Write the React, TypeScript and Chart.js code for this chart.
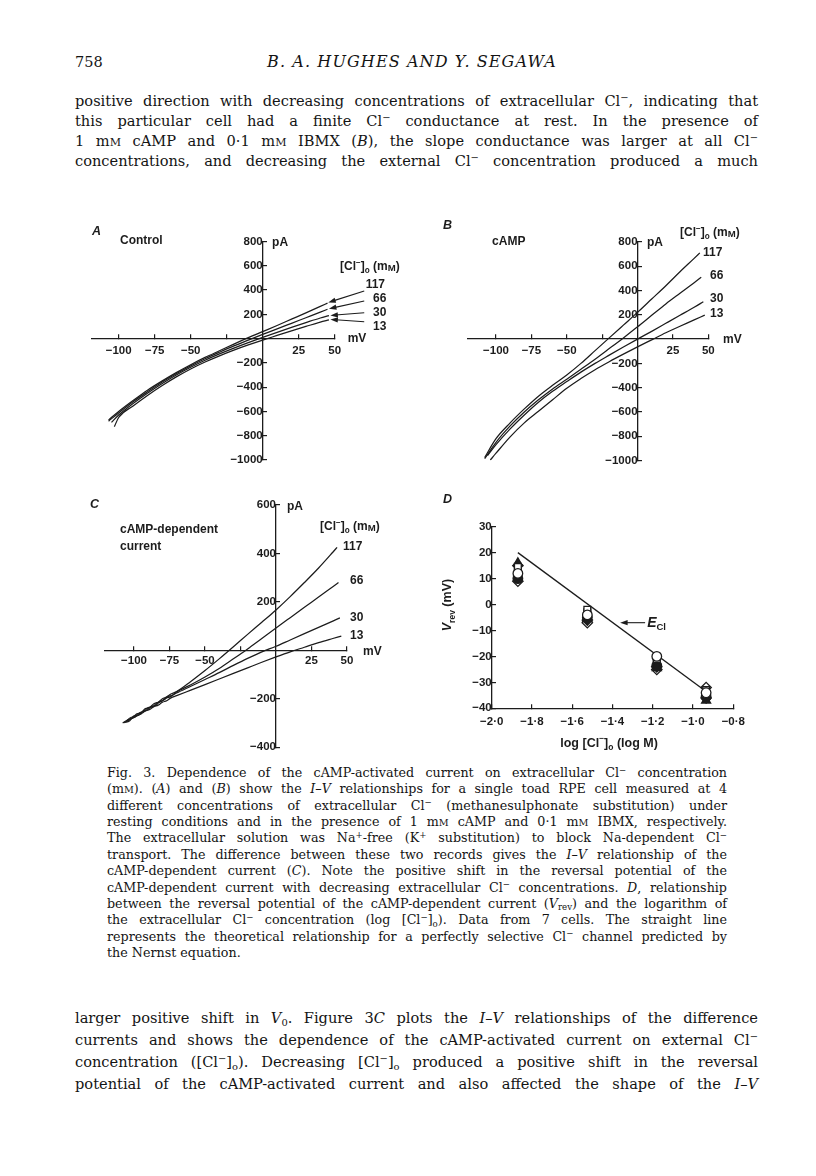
import React, { useEffect, useRef } from 'react';
import { Chart, registerables } from 'chart.js';
Chart.register(...registerables);

const INK = '#1c1c1c';
const SANS = '"Liberation Sans", Arial, Helvetica, sans-serif';
const SERIF = '"DejaVu Serif", "Liberation Serif", serif';

// ---------------- Panel A : Control I–V  (mV, pA)
const aV117 = [-107, -100, -90, -80, -70, -60, -50, -40, -30, -20, -10, 0, 10, 20, 30, 40, 45];
const aI117 = [-670, -600, -510, -425, -350, -280, -215, -155, -100, -45, 8, 58, 108, 160, 212, 265, 292];
const aV66 = [-107, -100, -90, -80, -70, -60, -50, -40, -30, -20, -10, 0, 10, 20, 30, 40, 45];
const aI66 = [-680, -612, -520, -438, -360, -290, -225, -166, -112, -60, -12, 35, 80, 126, 172, 218, 242];
const aV30 = [-105, -100, -90, -80, -70, -60, -50, -40, -30, -20, -10, 0, 10, 20, 30, 40, 46];
const aI30 = [-690, -630, -535, -450, -372, -300, -236, -178, -126, -78, -33, 10, 52, 93, 132, 170, 190];
const aV13 = [-103, -100, -90, -80, -70, -60, -50, -40, -30, -20, -10, 0, 10, 20, 30, 40, 46];
const aI13 = [-725, -650, -555, -468, -388, -315, -250, -193, -142, -95, -52, -12, 26, 64, 100, 136, 154];

// ---------------- Panel B : cAMP I–V
const bV117 = [-108, -100, -90, -80, -70, -60, -50, -40, -30, -20, -10, 0, 10, 20, 30, 40, 44];
const bI117 = [-975, -820, -690, -575, -470, -380, -296, -200, -95, 10, 115, 220, 330, 440, 555, 665, 710];
const bV66 = [-108, -100, -90, -80, -70, -60, -50, -40, -30, -20, -10, 0, 10, 20, 30, 40, 45];
const bI66 = [-985, -850, -715, -600, -500, -410, -330, -248, -165, -78, 10, 101, 196, 290, 378, 465, 509];
const bV30 = [-106, -100, -90, -80, -70, -60, -50, -40, -30, -20, -10, 0, 10, 20, 30, 40, 46.5];
const bI30 = [-960, -870, -740, -625, -520, -430, -350, -272, -200, -132, -65, 0, 64, 130, 196, 262, 308];
const bV13 = [-104, -100, -90, -80, -70, -60, -50, -40, -30, -20, -10, 0, 10, 20, 30, 40, 47.5];
const bI13 = [-996, -940, -805, -690, -595, -500, -405, -325, -252, -186, -124, -64, -6, 52, 106, 158, 198];

// ---------------- Panel C : cAMP-dependent current
const cV117 = [-108, -104, -101, -98, -95, -92, -89, -86, -83, -80, -77, -74, -70, -60, -50, -40, -30, -20, -10, 0, 10, 20, 30, 40, 43];
const cI117 = [-300, -285, -278, -262, -258, -240, -236, -220, -214, -200, -192, -180, -170, -128, -83, -35, 15, 66, 116, 167, 222, 280, 340, 405, 425];
const cV66 = [-107, -103, -100, -97, -94, -91, -88, -85, -82, -79, -76, -73, -70, -60, -50, -40, -30, -20, -10, 0, 10, 20, 30, 40, 44];
const cI66 = [-298, -290, -270, -268, -252, -248, -232, -228, -212, -205, -190, -185, -172, -142, -110, -75, -35, 6, 49, 92, 135, 178, 220, 263, 280];
const cV30 = [-106, -102, -99, -96, -93, -90, -87, -84, -81, -78, -75, -72, -70, -60, -50, -40, -30, -20, -10, 0, 10, 20, 30, 40, 45];
const cI30 = [-296, -276, -274, -258, -252, -236, -233, -217, -212, -198, -193, -182, -176, -148, -120, -92, -62, -33, -6, 17, 43, 69, 95, 121, 134];
const cV13 = [-105, -101, -98, -95, -92, -89, -86, -83, -80, -77, -74, -70, -60, -50, -40, -30, -20, -10, 0, 10, 20, 30, 40, 46];
const cI13 = [-292, -280, -270, -262, -250, -244, -232, -226, -214, -208, -196, -187, -164, -141, -118, -95, -72, -49, -27, -6, 13, 32, 49, 59];

// ---------------- Panel D : Vrev vs log [Cl-]o (7 cells)
const dLogCl = [-1.87, -1.525, -1.18, -0.935];
const dCell1 = [16, -5.5, -24.5, -37];
const dCell2 = [15, -6, -24, -36];
const dCell3 = [14.5, -2, -21, -33];
const dCell4 = [13, -3, -22.5, -35];
const dCell5 = [12, -4, -20, -34];
const dCell6 = [10, -5, -23.5, -35.5];
const dCell7 = [9, -7, -25, -32];
const eclX = [-1.87, -0.935];
const eclY = [20, -33.5];

// ---------------- tick values
const ivXTicks = [-100, -75, -50, -25, 25, 50];
const ivXLabelled = [-100, -75, -50, 25, 50];
const abYTicks = [-1000, -800, -600, -400, -200, 200, 400, 600, 800];
const cYTicks = [-400, -200, 200, 400, 600];
const dXTicks = [-2.0, -1.8, -1.6, -1.4, -1.2, -1.0, -0.8];
const dYTicks = [-40, -30, -20, -10, 0, 10, 20, 30];

const fmtInt = (v: number) => (v < 0 ? '\u2212' + Math.abs(v) : String(v));
const fmtDec = (v: number) => (v < 0 ? '\u2212' : '') + Math.abs(v).toFixed(1).replace('.', '\u00b7');

const RX = /(\^\{[^}]*\}|_\{[^}]*\}|\*[^*]*\*|#[^#]*#)/;
type Seg = { t: string; k: 'n' | 'sup' | 'sub' | 'it' | 'sm' };
function parseSegs(s: string): Seg[] {
  return s.split(RX).filter(Boolean).map((p) => {
    if (p.startsWith('^{')) return { t: p.slice(2, -1), k: 'sup' };
    if (p.startsWith('_{')) return { t: p.slice(2, -1), k: 'sub' };
    if (p.startsWith('*')) return { t: p.slice(1, -1), k: 'it' };
    if (p.startsWith('#')) return { t: p.slice(1, -1), k: 'sm' };
    return { t: p, k: 'n' };
  });
}

function segSize(k: Seg['k'], size: number) {
  return k === 'sup' || k === 'sub' ? size * 0.68 : k === 'sm' ? size * 0.8 : size;
}
function segFont(k: Seg['k'], size: number, italic: boolean) {
  const it = italic || k === 'it';
  return `${it ? 'italic ' : ''}bold ${segSize(k, size)}px ${SANS}`;
}

function drawRich(ctx: CanvasRenderingContext2D, x: number, y: number, text: string, size: number, italic: boolean, align: string, rotate: boolean) {
  const segs = parseSegs(text);
  ctx.save();
  ctx.fillStyle = INK;
  ctx.textBaseline = 'middle';
  ctx.textAlign = 'left';
  let total = 0;
  const widths = segs.map((s) => {
    ctx.font = segFont(s.k, size, italic);
    const w = ctx.measureText(s.t).width;
    total += w;
    return w;
  });
  ctx.translate(x, y);
  if (rotate) ctx.rotate(-Math.PI / 2);
  let cx = align === 'center' ? -total / 2 : 0;
  segs.forEach((s, i) => {
    ctx.font = segFont(s.k, size, italic);
    let dy = 0;
    if (s.k === 'sup') dy = -size * 0.36;
    else if (s.k === 'sub') dy = size * 0.34;
    else if (s.k === 'sm') dy = (size - segSize(s.k, size)) * 0.38;
    ctx.fillText(s.t, cx, dy);
    cx += widths[i];
  });
  ctx.restore();
}

function drawArrow(ctx: CanvasRenderingContext2D, x1: number, y1: number, x2: number, y2: number) {
  const ang = Math.atan2(y2 - y1, x2 - x1);
  const L = 7.5;
  const W = 2.6;
  const c = Math.cos(ang);
  const s = Math.sin(ang);
  ctx.save();
  ctx.strokeStyle = INK;
  ctx.fillStyle = INK;
  ctx.lineWidth = 1.1;
  ctx.beginPath();
  ctx.moveTo(x1, y1);
  ctx.lineTo(x2 - c * L * 0.7, y2 - s * L * 0.7);
  ctx.stroke();
  ctx.beginPath();
  ctx.moveTo(x2, y2);
  ctx.lineTo(x2 - L * c + W * s, y2 - L * s - W * c);
  ctx.lineTo(x2 - L * c - W * s, y2 - L * s + W * c);
  ctx.closePath();
  ctx.fill();
  ctx.restore();
}

type Ann = {
  kind: 'text' | 'arrow';
  x: number; y: number;
  x2?: number; y2?: number;
  text?: string; size?: number; italic?: boolean; align?: string; rotate?: boolean;
};

function annotPlugin(items: Ann[]) {
  return {
    id: 'annot',
    afterDraw(chart: any) {
      const ctx = chart.ctx as CanvasRenderingContext2D;
      const xs = chart.scales.x;
      const ys = chart.scales.y;
      for (const a of items) {
        const px = xs.getPixelForValue(a.x);
        const py = ys.getPixelForValue(a.y);
        if (a.kind === 'arrow') {
          drawArrow(ctx, px, py, xs.getPixelForValue(a.x2 as number), ys.getPixelForValue(a.y2 as number));
        } else {
          drawRich(ctx, px, py, a.text || '', a.size ?? 12, !!a.italic, a.align || 'left', !!a.rotate);
        }
      }
    },
  };
}

const tickFont = { family: SANS, size: 11.5, weight: 'bold' as const };

function axisX(min: number, max: number, at: number, ticks: number[], label: (v: number) => string, pad: number) {
  return {
    type: 'linear', min, max, position: { y: at },
    afterBuildTicks: (sc: any) => { sc.ticks = ticks.map((value) => ({ value })); },
    ticks: { callback: (v: any) => label(Number(v)), font: tickFont, color: INK, padding: pad, maxRotation: 0, minRotation: 0, autoSkip: false },
    grid: { drawOnChartArea: false, drawTicks: true, tickLength: -5, color: INK, lineWidth: 1.2 },
    border: { display: true, color: INK, width: 1.3 },
  };
}
function axisY(min: number, max: number, at: number, ticks: number[], label: (v: number) => string, pad: number) {
  return {
    type: 'linear', min, max, position: { x: at },
    afterBuildTicks: (sc: any) => { sc.ticks = ticks.map((value) => ({ value })); },
    ticks: { callback: (v: any) => label(Number(v)), font: tickFont, color: INK, padding: pad, autoSkip: false },
    grid: { drawOnChartArea: false, drawTicks: true, tickLength: -5, color: INK, lineWidth: 1.2 },
    border: { display: true, color: INK, width: 1.3 },
  };
}

type Box = { left: number; top: number; width: number; height: number; aL: number; aR: number; aT: number; aB: number };
const padOf = (b: Box) => ({ left: b.aL - b.left, right: b.left + b.width - b.aR, top: b.aT - b.top, bottom: b.top + b.height - b.aB });

function curve(v: number[], i: number[]) {
  return {
    data: v.map((x, k) => ({ x, y: i[k] })),
    showLine: true, borderColor: INK, borderWidth: 1.25, pointRadius: 0,
    cubicInterpolationMode: 'monotone', fill: false,
  };
}

function ivConfig(box: Box, curves: any[], xMin: number, yMin: number, yMax: number, yTicks: number[], xPad: number, yPad: number, items: Ann[]) {
  return {
    type: 'scatter',
    data: { datasets: curves },
    options: {
      responsive: false, animation: false, events: [], devicePixelRatio: 1,
      layout: { padding: padOf(box) },
      plugins: { legend: { display: false }, tooltip: { enabled: false } },
      scales: {
        x: axisX(xMin, 50, 0, ivXTicks, (v) => (ivXLabelled.includes(v) ? fmtInt(v) : ''), xPad),
        y: axisY(yMin, yMax, 0, yTicks, fmtInt, yPad),
      },
    },
    plugins: [annotPlugin(items)],
  };
}

const boxA: Box = { left: 75, top: 205, width: 350, height: 290, aL: 91.3, aR: 334.7, aT: 241.5, aB: 460 };
const boxB: Box = { left: 430, top: 205, width: 355, height: 290, aL: 467.7, aR: 708.3, aT: 242, aB: 460.5 };
const boxC: Box = { left: 75, top: 480, width: 350, height: 290, aL: 104.2, aR: 347, aT: 505, aB: 747.3 };
const boxD: Box = { left: 430, top: 480, width: 355, height: 290, aL: 491.7, aR: 733.3, aT: 526.7, aB: 708.3 };

const CLMM = '[Cl^{\u2212}]_{o} (m#M#)';

const annA: Ann[] = [
  { kind: 'text', x: -118.5, y: 878, text: 'A', italic: true, size: 12.5 },
  { kind: 'text', x: -99.1, y: 804, text: 'Control' },
  { kind: 'text', x: 6.5, y: 787, text: 'pA' },
  { kind: 'text', x: 53.7, y: 590, text: CLMM },
  { kind: 'text', x: 71.5, y: 441, text: '117' },
  { kind: 'text', x: 76.6, y: 326, text: '66' },
  { kind: 'text', x: 76.6, y: 211, text: '30' },
  { kind: 'text', x: 76.6, y: 96, text: '13' },
  { kind: 'text', x: 59, y: -3, text: 'mV' },
  { kind: 'arrow', x: 70.5, y: 392, x2: 45.5, y2: 298 },
  { kind: 'arrow', x: 70.5, y: 310, x2: 46, y2: 246 },
  { kind: 'arrow', x: 70.5, y: 213, x2: 47, y2: 191 },
  { kind: 'arrow', x: 70.5, y: 139, x2: 47, y2: 158 },
];
const annB: Ann[] = [
  { kind: 'text', x: -137.5, y: 932, text: 'B', italic: true, size: 12.5 },
  { kind: 'text', x: -102.8, y: 800, text: 'cAMP' },
  { kind: 'text', x: 6.7, y: 792, text: 'pA' },
  { kind: 'text', x: 30, y: 874, text: CLMM },
  { kind: 'text', x: 46.3, y: 709, text: '117' },
  { kind: 'text', x: 51.2, y: 520, text: '66' },
  { kind: 'text', x: 51.2, y: 330, text: '30' },
  { kind: 'text', x: 51.2, y: 207, text: '13' },
  { kind: 'text', x: 60.4, y: -3, text: 'mV' },
];
const annC: Ann[] = [
  { kind: 'text', x: -131, y: 600, text: 'C', italic: true, size: 12.5 },
  { kind: 'text', x: -109.9, y: 497, text: 'cAMP-dependent' },
  { kind: 'text', x: -109.9, y: 427, text: 'current' },
  { kind: 'text', x: 7.7, y: 592, text: 'pA' },
  { kind: 'text', x: 31, y: 509, text: CLMM },
  { kind: 'text', x: 47.2, y: 427, text: '117' },
  { kind: 'text', x: 52.1, y: 286, text: '66' },
  { kind: 'text', x: 52.1, y: 134, text: '30' },
  { kind: 'text', x: 52.1, y: 59, text: '13' },
  { kind: 'text', x: 61.3, y: -4, text: 'mV' },
];
const annD: Ann[] = [
  { kind: 'text', x: -2.242, y: 40.3, text: 'D', italic: true, size: 12.5 },
  { kind: 'text', x: -2.217, y: -0.2, text: '*V*_{rev} (mV)', align: 'center', rotate: true, size: 12.5 },
  { kind: 'text', x: -1.417, y: -53.4, text: 'log [Cl^{\u2212}]_{o} (log M)', align: 'center', size: 12.5 },
  { kind: 'arrow', x: -1.238, y: -7, x2: -1.362, y2: -7 },
  { kind: 'text', x: -1.228, y: -7.1, text: '*E*_{Cl}', size: 14 },
];

function configA() {
  return ivConfig(boxA, [curve(aV117, aI117), curve(aV66, aI66), curve(aV30, aI30), curve(aV13, aI13)], -119, -1000, 800, abYTicks, 10.1, 12.7, annA);
}
function configB() {
  return ivConfig(boxB, [curve(bV117, bI117), curve(bV66, bI66), curve(bV30, bI30), curve(bV13, bI13)], -120, -1000, 800, abYTicks, 9.8, 13, annB);
}
function configC() {
  return ivConfig(boxC, [curve(cV117, cI117), curve(cV66, cI66), curve(cV30, cI30), curve(cV13, cI13)], -121, -400, 600, cYTicks, 8.8, 13.3, annC);
}

function cell(vals: number[], style: string, filled: boolean, r = 4.8) {
  return {
    data: dLogCl.map((x, k) => ({ x, y: vals[k] })),
    showLine: false, pointStyle: style, pointRadius: r,
    pointBackgroundColor: filled ? INK : '#ffffff', pointBorderColor: INK, pointBorderWidth: 1.3,
  };
}
function configD() {
  return {
    type: 'scatter',
    data: {
      datasets: [
        cell(dCell5, 'circle', false),
        cell(dCell3, 'rect', false),
        cell(dCell1, 'triangle', true, 5.2),
        cell(dCell2, 'rectRot', true, 5.2),
        cell(dCell4, 'rect', true),
        cell(dCell6, 'circle', true),
        cell(dCell7, 'rectRot', false, 5.2),
        {
          data: eclX.map((x, k) => ({ x, y: eclY[k] })),
          showLine: true, borderColor: INK, borderWidth: 1.3, pointRadius: 0,
        },
      ],
    },
    options: {
      responsive: false, animation: false, events: [], devicePixelRatio: 1,
      layout: { padding: padOf(boxD) },
      plugins: { legend: { display: false }, tooltip: { enabled: false } },
      scales: {
        x: axisX(-2.0, -0.8, -40, dXTicks, fmtDec, 11.5),
        y: axisY(-40, 30, -2.0, dYTicks, fmtInt, 10),
      },
    },
    plugins: [annotPlugin(annD)],
  };
}

function ChartBox({ box, make }: { box: Box; make: () => any }) {
  const ref = useRef<HTMLCanvasElement | null>(null);
  useEffect(() => {
    if (!ref.current) return;
    const chart = new Chart(ref.current, make());
    return () => chart.destroy();
  }, []);
  return (
    <canvas
      ref={ref}
      width={box.width}
      height={box.height}
      style={{ position: 'absolute', left: box.left, top: box.top, width: box.width, height: box.height }}
    />
  );
}

// ---------------- page text
function renderMarkup(s: string) {
  return s.split(RX).filter(Boolean).map((p, i) => {
    if (p.startsWith('^{')) return <span key={i} style={{ fontSize: '0.68em', position: 'relative', top: '-0.5em' }}>{p.slice(2, -1)}</span>;
    if (p.startsWith('_{')) return <span key={i} style={{ fontSize: '0.68em', position: 'relative', top: '0.3em' }}>{p.slice(2, -1)}</span>;
    if (p.startsWith('*')) return <i key={i}>{p.slice(1, -1)}</i>;
    if (p.startsWith('#')) return <span key={i} style={{ fontSize: '0.76em' }}>{p.slice(1, -1)}</span>;
    return <React.Fragment key={i}>{p}</React.Fragment>;
  });
}

const M = '\u2212';
const topLines = [
  `positive direction with decreasing concentrations of extracellular Cl^{${M}}, indicating that`,
  `this particular cell had a finite Cl^{${M}} conductance at rest. In the presence of`,
  `1 m#M# cAMP and 0\u00b71 m#M# IBMX (*B*), the slope conductance was larger at all Cl^{${M}}`,
  `concentrations, and decreasing the external Cl^{${M}} concentration produced a much`,
];
const captionLines = [
  `Fig. 3. Dependence of the cAMP-activated current on extracellular Cl^{${M}} concentration`,
  `(m#M#). (*A*) and (*B*) show the *I\u2013V* relationships for a single toad RPE cell measured at 4`,
  `different concentrations of extracellular Cl^{${M}} (methanesulphonate substitution) under`,
  `resting conditions and in the presence of 1 m#M# cAMP and 0\u00b71 m#M# IBMX, respectively.`,
  `The extracellular solution was Na^{+}-free (K^{+} substitution) to block Na-dependent Cl^{${M}}`,
  `transport. The difference between these two records gives the *I\u2013V* relationship of the`,
  `cAMP-dependent current (*C*). Note the positive shift in the reversal potential of the`,
  `cAMP-dependent current with decreasing extracellular Cl^{${M}} concentrations. *D*, relationship`,
  `between the reversal potential of the cAMP-dependent current (*V*_{rev}) and the logarithm of`,
  `the extracellular Cl^{${M}} concentration (log [Cl^{${M}}]_{o}). Data from 7 cells. The straight line`,
  `represents the theoretical relationship for a perfectly selective Cl^{${M}} channel predicted by`,
  `the Nernst equation.`,
];
const bottomLines = [
  `larger positive shift in *V*_{0}. Figure 3*C* plots the *I\u2013V* relationships of the difference`,
  `currents and shows the dependence of the cAMP-activated current on external Cl^{${M}}`,
  `concentration ([Cl^{${M}}]_{o}). Decreasing [Cl^{${M}}]_{o} produced a positive shift in the reversal`,
  `potential of the cAMP-activated current and also affected the shape of the *I\u2013V*`,
];

function Line({ text, left, width, center, size, lh, justify }: { text: string; left: number; width: number; center: number; size: number; lh: number; justify: boolean }) {
  return (
    <div
      style={{
        position: 'absolute', left, top: center - lh / 2, width, height: lh, lineHeight: `${lh}px`,
        fontFamily: SERIF, fontSize: size, color: '#141414',
        textAlign: justify ? 'justify' : 'left', textAlignLast: justify ? 'justify' : 'left', whiteSpace: 'nowrap',
      } as React.CSSProperties}
    >
      {renderMarkup(text)}
    </div>
  );
}

export default function App() {
  return (
    <div style={{ position: 'absolute', left: 0, top: 0, width: 816, height: 1176, background: '#ffffff', overflow: 'hidden' }}>
      <div style={{ position: 'absolute', left: 75, top: 52, fontFamily: SERIF, fontSize: 14.5, lineHeight: '20px', color: '#141414' }}>758</div>
      <div style={{ position: 'absolute', left: 0, width: 816, top: 52, textAlign: 'center', fontFamily: SERIF, fontStyle: 'italic', fontSize: 16, lineHeight: '20px', letterSpacing: 1.1, color: '#141414', paddingLeft: 4 }}>
        B. A. HUGHES AND Y. SEGAWA
      </div>
      {topLines.map((t, i) => (
        <Line key={'t' + i} text={t} left={75} width={683} center={101 + 20 * i} size={14.6} lh={20} justify />
      ))}
      {captionLines.map((t, i) => (
        <Line key={'c' + i} text={t} left={107} width={620} center={773 + 16.36 * i} size={12.7} lh={16} justify={i < captionLines.length - 1} />
      ))}
      {bottomLines.map((t, i) => (
        <Line key={'b' + i} text={t} left={75} width={683} center={1018 + 22 * i} size={14.6} lh={20} justify />
      ))}
      <ChartBox box={boxA} make={configA} />
      <ChartBox box={boxB} make={configB} />
      <ChartBox box={boxC} make={configC} />
      <ChartBox box={boxD} make={configD} />
    </div>
  );
}
